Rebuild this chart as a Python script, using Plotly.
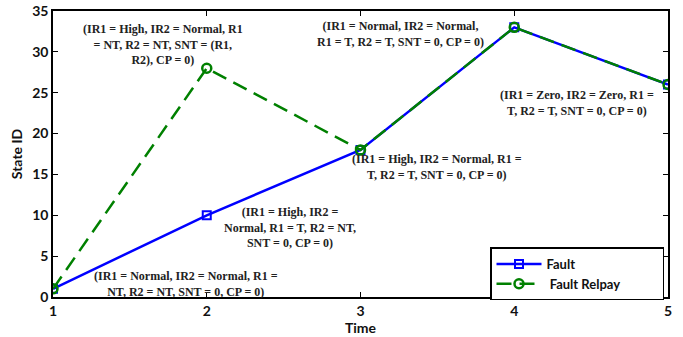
import plotly.graph_objects as go

time = [1, 2, 3, 4, 5]
fault = [1, 10, 18, 33, 26]
fault_replay = [1, 28, 18, 33, 26]

labels = [
    "(IR1 = High, IR2 = Normal, R1<br>= NT, R2 = NT, SNT = (R1,<br>R2), CP = 0)",
    "(IR1 = Normal, IR2 = Normal,<br>R1 = T, R2 = T, SNT = 0, CP = 0)",
    "(IR1 = Zero, IR2 = Zero, R1 =<br>T, R2 = T, SNT = 0, CP = 0)",
    "(IR1 = High, IR2 = Normal, R1 =<br>T, R2 = T, SNT = 0, CP = 0)",
    "(IR1 = High, IR2 =<br>Normal, R1 = T, R2 = NT,<br>SNT = 0, CP = 0)",
    "(IR1 = Normal, IR2 = Normal, R1 =<br>NT, R2 = NT, SNT = 0, CP = 0)",
]
label_x = [1.715, 3.257, 4.408, 3.497, 2.541, 1.865]
label_y = [30.9, 32.2, 23.7, 15.9, 8.55, 1.6]

pad = "\u00a0" * 11
fig = go.Figure()
fig.add_trace(go.Scatter(
    x=time, y=fault, name="<b>Fault</b>", mode="lines+markers",
    line=dict(color="#0000ff", width=2.5),
    marker=dict(symbol="square-open", size=8, color="#0000ff", line=dict(width=2)),
))
fig.add_trace(go.Scatter(
    x=time, y=fault_replay, name="<b> Fault Relpay</b>" + pad, mode="lines+markers",
    line=dict(color="#008000", width=2.5, dash="15px,8px"),
    marker=dict(symbol="circle-open", size=9, color="#008000", line=dict(width=2.5)),
))

for t, x, y in zip(labels, label_x, label_y):
    bold = "<br>".join("<b>%s</b>" % s for s in t.split("<br>"))
    fig.add_annotation(x=x, y=y, text=bold, showarrow=False, xanchor="center", yanchor="middle",
                       font=dict(family="Liberation Serif", size=12, color="#222222"))

axis_font = dict(family="Lato", size=14, color="#111111")
fig.update_layout(
    width=683, height=337,
    margin=dict(l=53, r=15, t=11, b=40),
    paper_bgcolor="white", plot_bgcolor="white",
    font=dict(family="Lato", color="#111111"),
    showlegend=True,
    legend=dict(x=0.9935, y=-0.012, xanchor="right", yanchor="bottom",
                bordercolor="black", borderwidth=1.5, bgcolor="white",
                font=dict(family="Lato", size=13, color="#111111"),
                tracegroupgap=0, itemwidth=45),
    xaxis=dict(range=[1, 5], tickvals=time, ticktext=["<b>%d</b>" % v for v in time],
               ticks="inside", ticklen=5, tickcolor="black", showline=True, linecolor="black",
               linewidth=1.5, mirror="ticks", showgrid=False, zeroline=False,
               tickfont=axis_font, automargin=False,
               title=dict(text="<b>Time</b>", font=dict(family="Lato", size=14, color="#111111"), standoff=2)),
    yaxis=dict(range=[0, 35], tickvals=[0, 5, 10, 15, 20, 25, 30, 35],
               ticktext=["<b>%d</b>" % v for v in [0, 5, 10, 15, 20, 25, 30, 35]],
               ticks="inside", ticklen=5, tickcolor="black", showline=True, linecolor="black",
               linewidth=1.5, mirror="ticks", showgrid=False, zeroline=False,
               tickfont=axis_font, automargin=False, ticklabeloverflow="allow",
               title=dict(text="<b>State ID</b>", font=dict(family="Lato", size=14, color="#111111"), standoff=6)),
)

# remove the default 8px body margin so the figure fills the window exactly
fig.write_html("out.html", config={"displayModeBar": False},
               post_script="document.body.style.margin='0';")
